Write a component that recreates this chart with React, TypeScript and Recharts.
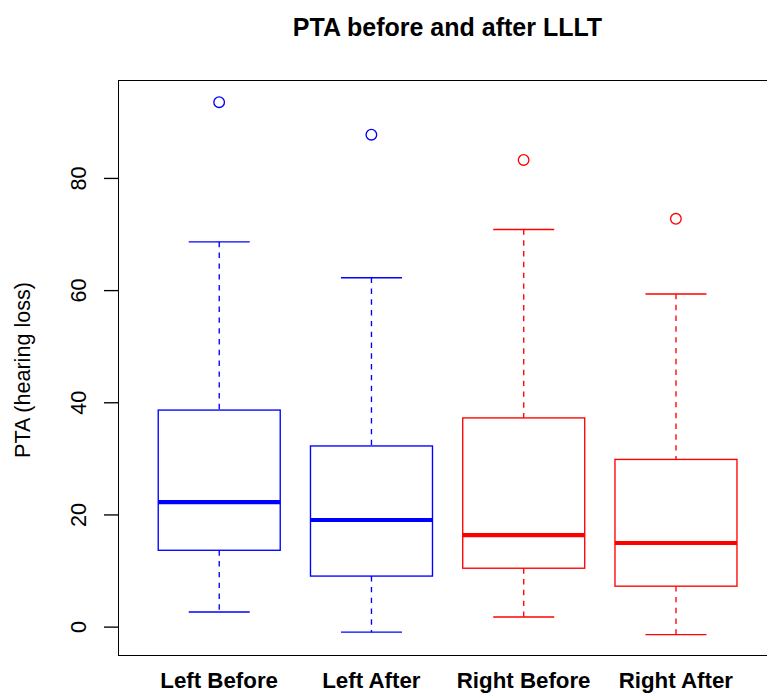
import { ComposedChart, Bar, Scatter, XAxis, YAxis } from 'recharts';

const categories = ['Left Before', 'Left After', 'Right Before', 'Right After'];
const lowWhisker = [2.7, -0.9, 1.8, -1.35];
const q1 = [13.7, 9.1, 10.5, 7.3];
const median = [22.3, 19.1, 16.4, 15.0];
const q3 = [38.7, 32.3, 37.3, 29.9];
const highWhisker = [68.7, 62.3, 70.9, 59.4];
const outliers = [93.6, 87.8, 83.3, 72.8];
const colors = ['#0000ff', '#0000ff', '#ff0000', '#ff0000'];
const yTicks = [0, 20, 40, 60, 80];

const FONT = '"Liberation Sans", Arial, Helvetica, sans-serif';
const LW = 1.35;

const data = categories.map((name, i) => ({
  name,
  range: [lowWhisker[i], highWhisker[i]],
  lo: lowWhisker[i],
  q1: q1[i],
  med: median[i],
  q3: q3[i],
  hi: highWhisker[i],
  outlier: outliers[i],
  color: colors[i],
}));

// box + whiskers, positioned from the bar's own range (lo..hi)
const BoxShape = (props: any) => {
  const { x, y, width, height, payload } = props;
  const top = Math.min(y, y + height);
  const h = Math.abs(height);
  const k = h / (payload.hi - payload.lo);
  const py = (v: number) => top + (payload.hi - v) * k;
  const cx = x + width / 2;
  const cap = width / 4;
  const c = payload.color;
  const dash = '5.4 5.4';
  return (
    <g>
      <line x1={cx} x2={cx} y1={py(payload.hi)} y2={py(payload.q3)} stroke={c} strokeWidth={LW} strokeDasharray={dash} />
      <line x1={cx} x2={cx} y1={py(payload.q1)} y2={py(payload.lo)} stroke={c} strokeWidth={LW} strokeDasharray={dash} />
      <line x1={cx - cap} x2={cx + cap} y1={py(payload.hi)} y2={py(payload.hi)} stroke={c} strokeWidth={LW} />
      <line x1={cx - cap} x2={cx + cap} y1={py(payload.lo)} y2={py(payload.lo)} stroke={c} strokeWidth={LW} />
      <rect x={x} y={py(payload.q3)} width={width} height={py(payload.q1) - py(payload.q3)} fill="none" stroke={c} strokeWidth={LW} />
      <line x1={x} x2={x + width} y1={py(payload.med)} y2={py(payload.med)} stroke={c} strokeWidth={4.2} />
    </g>
  );
};

const OutlierShape = (props: any) => {
  const { cx, cy, payload } = props;
  return <circle cx={cx} cy={cy} r={5.3} fill="none" stroke={payload.color} strokeWidth={LW} />;
};

const YTick = (props: any) => {
  const { y, payload } = props;
  return (
    <text transform={`translate(86,${y}) rotate(-90)`} textAnchor="middle" fontSize={21.6} fontFamily={FONT} fill="#000">
      {payload.value}
    </text>
  );
};

const XTick = (props: any) => {
  const { x, payload } = props;
  return (
    <text x={x} y={688} textAnchor="middle" fontSize={22.3} fontWeight="bold" fontFamily={FONT} fill="#000">
      {payload.value}
    </text>
  );
};

export default function App() {
  return (
    <div style={{ position: 'absolute', left: 0, top: 0, width: 767, height: 693, overflow: 'hidden', background: '#fff' }}>
      <div
        style={{
          position: 'absolute',
          left: 0,
          width: 895,
          top: 15,
          textAlign: 'center',
          fontFamily: FONT,
          fontWeight: 'bold',
          fontSize: 25,
          lineHeight: '25px',
          color: '#000',
        }}
      >
        PTA before and after LLLT
      </div>
      <ComposedChart
        width={800}
        height={693}
        data={data}
        margin={{ top: 80, right: 23, bottom: 0, left: 0 }}
        barCategoryGap="10%"
        style={{ position: 'absolute', left: 0, top: 0 }}
      >
        <XAxis
          dataKey="name"
          type="category"
          height={37}
          padding={{ left: 25, right: 25 }}
          axisLine={false}
          tickLine={false}
          tick={<XTick />}
          interval={0}
        />
        <YAxis
          type="number"
          width={118}
          domain={[-5.15, 97.55]}
          ticks={yTicks}
          allowDataOverflow
          axisLine={false}
          tickSize={14}
          tickLine={{ stroke: '#000', strokeWidth: LW }}
          tick={<YTick />}
          label={{
            content: () => (
              <text transform="translate(30,370) rotate(-90)" textAnchor="middle" fontSize={21.6} fontFamily={FONT} fill="#000">
                PTA (hearing loss)
              </text>
            ),
          }}
        />
        <Bar dataKey="range" shape={<BoxShape />} isAnimationActive={false} />
        <Scatter dataKey="outlier" shape={<OutlierShape />} isAnimationActive={false} />
      </ComposedChart>
      <div
        style={{
          position: 'absolute',
          left: 118,
          top: 80,
          width: 659,
          height: 576,
          border: `${LW}px solid #000`,
          boxSizing: 'border-box',
          pointerEvents: 'none',
        }}
      />
    </div>
  );
}
